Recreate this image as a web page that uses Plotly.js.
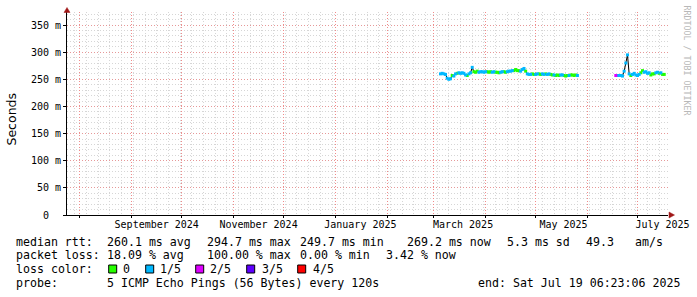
<!DOCTYPE html>
<html><head><meta charset="utf-8">
<script src="https://cdn.plot.ly/plotly-3.0.1.min.js"></script>
<style>html,body{margin:0;padding:0;background:#fff;}#chart{width:697px;height:297px;}</style>
</head><body><div id="chart"></div>
<script>
const rangeStart = '2024-07-24 06:23:06';
const rangeEnd = '2025-07-19 06:23:06';

const seg1Start = '2025-03-05';
const seg1Median = [260,261,260,259,252,250,251,257,256,260,261,262,261,262,261,258,257,260,262,272,
  264,263,265,263,264,264,263,264,264,263,264,263,264,263,263,262,263,264,264,263,
  264,265,265,266,266,268,266,266,265,268,270,265,260,259,259,260,259,259,260,260,
  259,260,259,260,259,260,259,258,258,257,258,257,258,258,257,256,257,257,258,258,
  257,258,257];
const seg1Loss = [1,1,1,1,1,1,1,0,1,1,0,1,1,1,1,1,0,1,1,1,
  0,0,0,1,1,1,1,1,0,0,0,1,1,0,0,0,1,1,0,0,
  1,1,1,1,0,0,0,0,1,1,1,0,1,1,1,0,0,1,1,0,
  0,1,1,0,1,1,0,0,1,0,0,0,1,1,0,0,0,1,0,0,
  0,0,1];

const seg2Start = '2025-06-18';
const seg2Median = [257,257,257,257,256,265,280,295,260,257,259,261,258,257,259,262,266,263,264,261,
  262,258,260,260,262,263,261,262,259,259];
const seg2Loss = [2,1,1,1,1,1,1,1,1,0,1,1,1,1,1,0,0,1,1,1,
  1,0,0,0,1,1,0,1,0,0];

const lossLevels = ['0','1/5','2/5','3/5','4/5'];
const lossColors = ['#26ff00','#00b8ff','#dd00ff','#5e00ff','#ff0000'];

const yTickVals = [0,50,100,150,200,250,300,350];
const yTickText = ['0\u00a0\u00a0','50 m','100 m','150 m','200 m','250 m','300 m','350 m'];

const monthLabelDates = ['2024-09-16','2024-11-16','2025-01-16','2025-03-18 12:00','2025-05-17 16:00','2025-07-16'];
const monthLabels = ['September 2024','November 2024','January 2025','March 2025','May 2025','July 2025'];

const rttStats = ['median rtt:','260.1 ms avg','294.7 ms max','249.7 ms min','269.2 ms now','5.3 ms sd','49.3','am/s'];
const lossStats = ['packet loss:','18.09 % avg','100.00 % max','0.00 % min','3.42 % now'];
const probeText = ['probe:','5 ICMP Echo Pings (56 Bytes) every 120s','end: Sat Jul 19 06:23:06 2025'];

function dayDates(start, n){
  const t0 = Date.parse(start + 'T00:00:00Z');
  const out = [];
  for (let i = 0; i < n; i++) out.push(new Date(t0 + i*86400000).toISOString().slice(0,10));
  return out;
}
const seg1Dates = dayDates(seg1Start, seg1Median.length);
const seg2Dates = dayDates(seg2Start, seg2Median.length);

const L = 67, T = 12, W = 601, H = 203;
const px = p => (p - L) / W;
const py = p => (T + H - p) / H;

const traces = [];
traces.push({type:'scatter', mode:'lines', x: seg1Dates, y: seg1Median, line:{color:'#000', width:1}, hoverinfo:'skip', showlegend:false});
traces.push({type:'scatter', mode:'lines', x: seg2Dates, y: seg2Median, line:{color:'#000', width:1}, hoverinfo:'skip', showlegend:false});
for (let k = 0; k < lossLevels.length; k++){
  const xs = [], ys = [];
  seg1Dates.forEach((d,i)=>{ if (seg1Loss[i]===k){ xs.push(d); ys.push(seg1Median[i]); } });
  seg2Dates.forEach((d,i)=>{ if (seg2Loss[i]===k){ xs.push(d); ys.push(seg2Median[i]); } });
  traces.push({type:'scatter', mode:'markers', x: xs, y: ys, name: lossLevels[k],
    marker:{symbol:'square', size:3, color: lossColors[k], line:{width:0}}, hoverinfo:'skip', showlegend:false});
}
traces.push({type:'scatter', mode:'markers', x: monthLabelDates, y: monthLabelDates.map(()=>null), xaxis:'x2', yaxis:'y', hoverinfo:'skip', showlegend:false});

const mono = 'DejaVu Sans Mono';
const annotations = [];
function txt(x, y, text, size, extra){
  annotations.push(Object.assign({xref:'paper', yref:'paper', x: px(x), y: py(y), text: text, showarrow:false,
    xanchor:'left', yanchor:'middle', borderpad:0, borderwidth:0,
    font:{family: mono, size: size || 11.6, color:'#000'}}, extra || {}));
}
const rttX = [16,107.3,207.3,300,407.3,506.7,586,635];
rttStats.forEach((s,i)=>txt(rttX[i], 241.5, s));
const lossX = [16,107.3,207.3,300,386];
lossStats.forEach((s,i)=>txt(lossX[i], 255.3, s));
txt(16, 269.3, 'loss color:');
const boxX = [108.7,145.7,195.7,246.7,297.7];
const labX = [123.3,160,210,261.7,312.7];
const shapes = [];
lossLevels.forEach((s,i)=>{
  txt(labX[i], 269.3, s);
  shapes.push({type:'rect', xref:'paper', yref:'paper', x0: px(boxX[i]), x1: px(boxX[i]+8), y0: py(273), y1: py(265),
    fillcolor: lossColors[i], line:{color:'#000', width:1}});
});
const probeX = [16,107.3,478.3];
probeText.forEach((s,i)=>txt(probeX[i], 283.3, s));
annotations.push({xref:'paper', yref:'paper', x: px(11), y: py(119.5), text:'Seconds', textangle:-90, showarrow:false,
  xanchor:'center', yanchor:'middle', font:{family:'DejaVu Sans', size:12.5, color:'#000'}});
annotations.push({xref:'paper', yref:'paper', x: px(686.5), y: py(60), text:'RRDTOOL / TOBI OETIKER', textangle:90, showarrow:false,
  xanchor:'center', yanchor:'middle', font:{family: mono, size:8.3, color:'#b8b8b8'}});

const arrowColor = '#a01818';
shapes.push({type:'path', xref:'paper', yref:'paper', fillcolor: arrowColor, line:{color: arrowColor, width:0.5},
  path: `M ${px(64)} ${py(12.5)} L ${px(67)} ${py(7.5)} L ${px(70)} ${py(12.5)} Z`});
shapes.push({type:'path', xref:'paper', yref:'paper', fillcolor: arrowColor, line:{color: arrowColor, width:0.5},
  path: `M ${px(669)} ${py(212)} L ${px(674.5)} ${py(215)} L ${px(669)} ${py(218)} Z`});

const majorGrid = 'rgba(240,110,110,0.6)';
const majorGridX = '#f08a8a';
const minorGrid = '#d6d6d6';
const gdash = '1px,2px';

const layout = {
  width: 697, height: 297,
  margin: {l: L, r: 697 - L - W, t: T, b: 297 - T - H, pad: 0},
  paper_bgcolor: '#fff', plot_bgcolor: '#fff',
  font: {family: mono, size: 10, color: '#000'},
  showlegend: false,
  xaxis: {type:'date', range:[rangeStart, rangeEnd], tickmode:'linear', tick0:'2024-08-01', dtick:'M1',
    showticklabels:false, ticks:'outside', ticklen:2, tickcolor:'#000', tickwidth:1,
    showgrid:true, gridcolor: majorGridX, griddash: gdash, gridwidth:1,
    minor:{tickmode:'linear', tick0:'2024-07-29', dtick:604800000, showgrid:true, gridcolor: minorGrid, griddash: gdash, ticks:''},
    showline:true, linecolor:'#000', linewidth:1, zeroline:false, fixedrange:true},
  xaxis2: {type:'date', range:[rangeStart, rangeEnd], overlaying:'x', anchor:'y', side:'bottom',
    tickmode:'array', tickvals: monthLabelDates, ticktext: monthLabels, ticks:'', showgrid:false, showline:false, zeroline:false,
    tickfont:{family: mono, size:10, color:'#000'}, ticklabelstandoff: 2},
  yaxis: {range:[0,374], tickmode:'array', tickvals: yTickVals, ticktext: yTickText,
    ticks:'outside', ticklen:3, tickcolor:'#000', tickfont:{family: mono, size:10, color:'#000'},
    showgrid:true, gridcolor: majorGrid, griddash: gdash, gridwidth:1,
    minor:{tickmode:'linear', tick0:0, dtick:10, showgrid:true, gridcolor: minorGrid, griddash: gdash, ticks:''},
    showline:true, linecolor:'#000', linewidth:1, zeroline:false, fixedrange:true},
  annotations: annotations,
  shapes: shapes
};

Plotly.newPlot('chart', traces, layout, {staticPlot:true, displayModeBar:false});
</script>
</body></html>
